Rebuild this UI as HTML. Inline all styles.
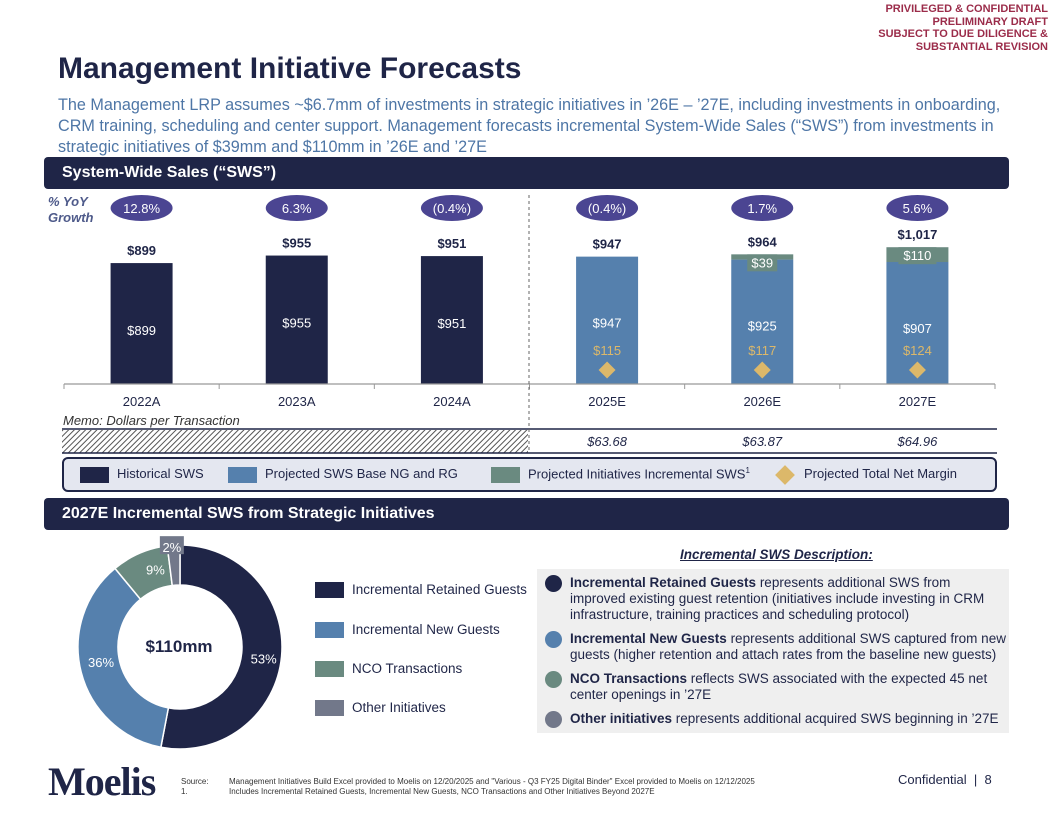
<!DOCTYPE html>
<html><head><meta charset="utf-8"><style>
body{margin:0;width:1056px;height:816px;position:relative;background:#fff;font-family:"Liberation Sans",Arial,sans-serif;overflow:hidden}
.a{position:absolute}
.hdr{position:absolute;left:44px;width:965px;height:32px;background:#1f2547;border-radius:4px;color:#fff;font-weight:bold;font-size:16px;line-height:32px;padding-left:18px;box-sizing:border-box}
</style></head><body>
<div class="a" style="right:8px;top:3px;text-align:right;color:#9b2c4a;font-weight:bold;font-size:11px;line-height:12.5px">PRIVILEGED &amp; CONFIDENTIAL<br>PRELIMINARY DRAFT<br>SUBJECT TO DUE DILIGENCE &amp;<br>SUBSTANTIAL REVISION</div>
<div class="a" style="left:58px;top:52px;font-size:30px;font-weight:bold;color:#1f2547">Management Initiative Forecasts</div>
<div class="a" style="left:58px;top:95px;width:945px;font-size:16.2px;line-height:21px;color:#4e76a6">The Management LRP assumes ~$6.7mm of investments in strategic initiatives in ’26E – ’27E, including investments in onboarding, CRM training, scheduling and center support. Management forecasts incremental System-Wide Sales (“SWS”) from investments in strategic initiatives of $39mm and $110mm in ’26E and ’27E</div>
<div class="hdr" style="top:157px">System-Wide Sales (“SWS”)</div>
<div class="hdr" style="top:498px">2027E Incremental SWS from Strategic Initiatives</div>
<div class="a" style="left:48px;top:194px;font-style:italic;font-weight:bold;font-size:13px;color:#4e5a8a;line-height:16px">% YoY<br>Growth</div>

<svg class="a" style="left:0;top:0" width="1056" height="816" id="chart">
<defs><pattern id="hatch" width="4" height="4" patternUnits="userSpaceOnUse" patternTransform="rotate(45)"><rect width="4" height="4" fill="#fff"/><line x1="0" y1="0" x2="0" y2="4" stroke="#555" stroke-width="2"/></pattern></defs>
</svg>

<div class="a" style="left:62px;top:457px;width:935px;height:35px;box-sizing:border-box;border:2px solid #1f2547;border-radius:6px;background:#e4e7f0"></div>
<div class="a" style="left:80px;top:466px;font-size:13px;color:#1f2547"><span style="display:inline-block;width:29px;height:16px;background:#1f2547;vertical-align:middle;margin-right:8px"></span>Historical SWS</div>
<div class="a" style="left:228px;top:466px;font-size:13px;color:#1f2547"><span style="display:inline-block;width:29px;height:16px;background:#5580ad;vertical-align:middle;margin-right:8px"></span>Projected SWS Base NG and RG</div>
<div class="a" style="left:491px;top:466px;font-size:13px;color:#1f2547"><span style="display:inline-block;width:29px;height:16px;background:#6a8a80;vertical-align:middle;margin-right:8px"></span>Projected Initiatives Incremental SWS<sup style="font-size:8px">1</sup></div>
<div class="a" style="left:776px;top:466px;font-size:13px;color:#1f2547"><span style="display:inline-block;width:14px;height:14px;background:#dcb86a;transform:rotate(45deg);vertical-align:middle;margin-right:12px;margin-left:2px"></span>Projected Total Net Margin</div>

<div class="a" style="left:63px;top:413px;font-style:italic;font-size:13px;color:#333">Memo: Dollars per Transaction</div>

<div class="a" style="left:315px;top:582px;font-size:13.5px;color:#1f2547;line-height:16px">
<div style="position:absolute;top:0;white-space:nowrap"><span style="display:inline-block;width:29px;height:16px;background:#1f2547;vertical-align:middle;margin-right:8px"></span>Incremental Retained Guests</div>
<div style="position:absolute;top:40px;white-space:nowrap"><span style="display:inline-block;width:29px;height:16px;background:#5580ad;vertical-align:middle;margin-right:8px"></span>Incremental New Guests</div>
<div style="position:absolute;top:79px;white-space:nowrap"><span style="display:inline-block;width:29px;height:16px;background:#6a8a80;vertical-align:middle;margin-right:8px"></span>NCO Transactions</div>
<div style="position:absolute;top:118px;white-space:nowrap"><span style="display:inline-block;width:29px;height:16px;background:#72788a;vertical-align:middle;margin-right:8px"></span>Other Initiatives</div>
</div>

<div class="a" style="left:680px;top:547px;font-style:italic;font-weight:bold;text-decoration:underline;font-size:13.5px;color:#1f2547">Incremental SWS Description:</div>
<div class="a" style="left:537px;top:569px;width:472px;height:164px;background:#efefef;font-size:13.5px;line-height:16px;color:#1f2547">
<div style="position:absolute;left:33px;top:6px;width:430px"><b>Incremental Retained Guests</b> represents additional SWS from improved existing guest retention (initiatives include investing in CRM infrastructure, training practices and scheduling protocol)</div>
<div style="position:absolute;left:33px;top:62px;width:440px"><b>Incremental New Guests</b> represents additional SWS captured from new guests (higher retention and attach rates from the baseline new guests)</div>
<div style="position:absolute;left:33px;top:102px;width:430px"><b>NCO Transactions</b> reflects SWS associated with the expected 45 net center openings in ’27E</div>
<div style="position:absolute;left:33px;top:142px;width:440px"><b>Other initiatives</b> represents additional acquired SWS beginning in ’27E</div>
<div style="position:absolute;left:8px;top:6px;width:17px;height:17px;border-radius:50%;background:#1f2547"></div>
<div style="position:absolute;left:8px;top:62px;width:17px;height:17px;border-radius:50%;background:#5580ad"></div>
<div style="position:absolute;left:8px;top:102px;width:17px;height:17px;border-radius:50%;background:#6a8a80"></div>
<div style="position:absolute;left:8px;top:142px;width:17px;height:17px;border-radius:50%;background:#72788a"></div>
</div>

<div class="a" style="left:48px;top:758px;font-family:'Liberation Serif',serif;font-size:40px;font-weight:bold;color:#1f2547;letter-spacing:-1px">Moelis</div>
<div class="a" style="left:181px;top:777px;font-size:8px;line-height:10px;color:#333">
<div>Source:<span style="position:absolute;left:48px;white-space:nowrap">Management Initiatives Build Excel provided to Moelis on 12/20/2025 and "Various - Q3 FY25 Digital Binder" Excel provided to Moelis on 12/12/2025</span></div>
<div>1.<span style="position:absolute;left:48px;white-space:nowrap">Includes Incremental Retained Guests, Incremental New Guests, NCO Transactions and Other Initiatives Beyond 2027E</span></div>
</div>
<div class="a" style="left:898px;top:772px;font-size:13px;color:#1f2547">Confidential &nbsp;| &nbsp;8</div>

<script>
const categories=["2022A","2023A","2024A","2025E","2026E","2027E"];
const historical=[899,955,951,0,0,0];
const baseSWS=[0,0,0,947,925,907];
const incremental=[0,0,0,0,39,110];
const totals=[899,955,951,947,964,1017];
const growth=["12.8%","6.3%","(0.4%)","(0.4%)","1.7%","5.6%"];
const margin=[null,null,null,115,117,124];
const perTxn=[null,null,null,"$63.68","$63.87","$64.96"];
const donutLabels=["Incremental Retained Guests","Incremental New Guests","NCO Transactions","Other Initiatives"];
const donutValues=[53,36,9,2];

const NS="http://www.w3.org/2000/svg";
const svg=document.getElementById('chart');
function el(t,a,txt){const e=document.createElementNS(NS,t);for(const k in a)e.setAttribute(k,a[k]);if(txt!=null)e.textContent=txt;svg.appendChild(e);return e;}
const x0=64,x1=995,base=384,k=0.1345,bw=62;
const band=(x1-x0)/categories.length;
const xc=i=>x0+band*(i+0.5);
const y=v=>base-v*k;

let r=el('rect',{x:62,y:430,width:466,height:23,fill:'url(#hatch)'});

el('line',{x1:62,y1:429,x2:997,y2:429,stroke:'#1f2547','stroke-width':1.5});
el('line',{x1:62,y1:453,x2:997,y2:453,stroke:'#1f2547','stroke-width':1.5});

categories.forEach((c,i)=>{
  const cx=xc(i);
  let e=el('ellipse',{cx:cx,cy:208,rx:31,ry:13,fill:'#4b4592'});
  
  el('text',{x:cx,y:213,'text-anchor':'middle','font-size':13,fill:'#fff'},growth[i]);
  if(historical[i]>0){
    e=el('rect',{x:cx-bw/2,y:y(historical[i]),width:bw,height:historical[i]*k,fill:'#1f2547'});
    
    el('text',{x:cx,y:y(historical[i])+72,'text-anchor':'middle','font-size':13,fill:'#fff'},'$'+historical[i]);
  }
  if(baseSWS[i]>0){
    e=el('rect',{x:cx-bw/2,y:y(baseSWS[i]),width:bw,height:baseSWS[i]*k,fill:'#5580ad'});
    
    el('text',{x:cx,y:y(baseSWS[i])+71,'text-anchor':'middle','font-size':13,fill:'#fff'},'$'+baseSWS[i]);
  }
  if(incremental[i]>0){
    const t=y(baseSWS[i]+incremental[i]);
    e=el('rect',{x:cx-bw/2,y:t,width:bw,height:incremental[i]*k,fill:'#6a8a80'});
    
    const w=incremental[i]>=100?38:30;
    el('rect',{x:cx-w/2,y:t,width:w,height:17,fill:'#6a8a80'});
    el('text',{x:cx,y:t+13,'text-anchor':'middle','font-size':13,fill:'#fff'},'$'+incremental[i]);
  }
  el('text',{x:cx,y:y(totals[i])-8,'text-anchor':'middle','font-size':13,'font-weight':'bold',fill:'#1f2547'},'$'+totals[i].toLocaleString('en-US'));
  if(margin[i]!=null){
    el('text',{x:cx,y:355,'text-anchor':'middle','font-size':13,fill:'#dcb86a'},'$'+margin[i]);
    e=el('rect',{x:cx-6,y:364,width:12,height:12,fill:'#dcb86a',transform:`rotate(45 ${cx} 370)`});
    
  }
  el('text',{x:cx,y:406,'text-anchor':'middle','font-size':13,fill:'#1f2547'},c);
  if(perTxn[i]) el('text',{x:cx,y:446,'text-anchor':'middle','font-size':13,'font-style':'italic',fill:'#1f2547'},perTxn[i]);
  el('line',{x1:x0+band*i,y1:base,x2:x0+band*i,y2:base+5,stroke:'#999'});
});
el('line',{x1:x0+band*6,y1:base,x2:x0+band*6,y2:base+5,stroke:'#999'});
el('line',{x1:x0,y1:base,x2:x1,y2:base,stroke:'#999','stroke-width':1.2});
el('line',{x1:529,y1:195,x2:529,y2:453,stroke:'#666','stroke-dasharray':'3,3'});

const dcx=180,dcy=647,R=102,ri=62;
const colors=['#1f2547','#5580ad','#6a8a80','#72788a'];
const tot=donutValues.reduce((a,b)=>a+b,0);
let ang=0;
donutValues.forEach((v,i)=>{
  const a0=ang,a1=ang+v/tot*2*Math.PI;ang=a1;
  const p=(a,rr)=>[dcx+rr*Math.sin(a),dcy-rr*Math.cos(a)];
  const L=(a1-a0)>Math.PI?1:0;
  const [ax,ay]=p(a0,R),[bx,by]=p(a1,R),[cx2,cy2]=p(a1,ri),[dx,dy]=p(a0,ri);
  const s=el('path',{d:`M${ax},${ay}A${R},${R} 0 ${L} 1 ${bx},${by}L${cx2},${cy2}A${ri},${ri} 0 ${L} 0 ${dx},${dy}Z`,fill:colors[i],stroke:'#fff','stroke-width':1.5});
  
  const m=(a0+a1)/2;let [lx,ly]=p(m,(R+ri)/2);
  if(i===0){lx+=2;ly+=4;}
  if(i===3){lx-=3;ly-=18;el('rect',{x:lx-12,y:ly-11,width:24,height:18,fill:'#72788a'});}
  if(i===2){lx+=8;ly-=2;}
  if(i===1){lx=dcx-79;ly=dcy+15;}
  el('text',{x:lx,y:ly+5,'text-anchor':'middle','font-size':13,fill:'#fff'},v+'%');
});
el('text',{x:dcx-1,y:dcy+5,'text-anchor':'middle','font-size':17,'font-weight':'bold',fill:'#1f2547'},'$110mm');
</script>
</body></html>
